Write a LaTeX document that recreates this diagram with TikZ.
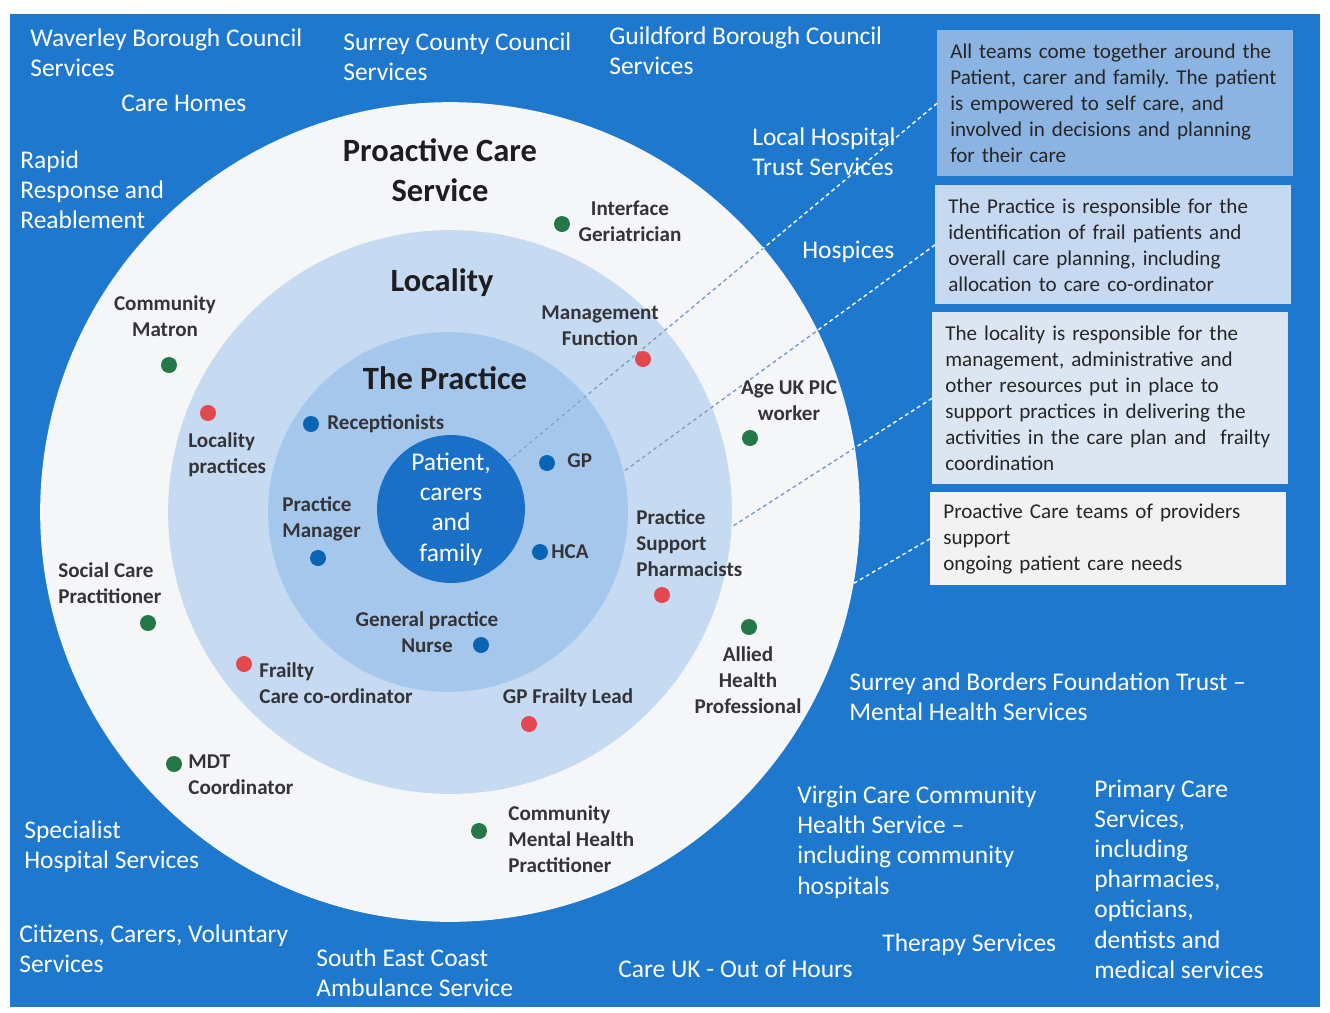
\documentclass[tikz,border=0pt]{standalone}
\usepackage{fontspec}
\setmainfont{Carlito}

\definecolor{bgblue}{RGB}{30,120,205}
\definecolor{ringwhite}{RGB}{244,246,248}
\definecolor{localityblue}{RGB}{198,219,242}
\definecolor{practiceblue}{RGB}{166,199,236}
\definecolor{patientblue}{RGB}{26,112,198}
\definecolor{labelgray}{RGB}{52,52,56}
\definecolor{titlegray}{RGB}{30,30,32}
\definecolor{dotgreen}{RGB}{36,120,72}
\definecolor{dotred}{RGB}{226,72,78}
\definecolor{dotblue}{RGB}{10,100,180}
\definecolor{notedark}{RGB}{140,180,226}
\definecolor{notemid}{RGB}{198,217,241}
\definecolor{notelight}{RGB}{220,230,242}
\definecolor{notepale}{RGB}{242,242,242}
\definecolor{linkgray}{RGB}{120,155,200}

\begin{document}
\frenchspacing
\hyphenpenalty=10000
\begin{tikzpicture}[
        x = 0.02cm, y = -0.02cm,
        svc/.style = {
          text = white, inner sep = 0pt, anchor = west, align = left,
          font = \fontsize{14.5}{17.2}\selectfont,
        },
        role/.style = {
          text = labelgray, inner sep = 0pt,
          font = \bfseries\fontsize{12}{14.8}\selectfont,
        },
        title/.style = {
          text = titlegray, inner sep = 0pt, align = center,
          font = \bfseries\fontsize{18.5}{22.7}\selectfont,
        },
        ring/.style = {circle, inner sep = 0pt, minimum size = #1*0.04cm},
        dot/.style = {circle, fill = #1, inner sep = 0pt, minimum size = 0.32cm},
        note/.style = {
          rectangle, fill = #1, anchor = north west, align = left,
          inner xsep = 0.26cm, inner ysep = 0pt, text width = 6.6cm,
          text = black!85, font = \fontsize{12}{14.8}\selectfont,
        },
        link/.style = {white, dash pattern = on 2.2pt off 1.8pt, line width = 0.8pt},
      ]

      \useasboundingbox (0,0) rectangle (1330,1012);
      \fill[bgblue] (10,14) rectangle (1320,1007);

      % rings, outside in
      \node[ring = 410, fill = ringwhite] (proactive) at (450,512) {};
      \node[ring = 282, fill = localityblue] (locality) at (450,512) {};
      \node[ring = 180, fill = practiceblue] (practice) at (448,512) {};
      \node[ring = 74, fill = patientblue, text = white, align = center,
        font = \fontsize{14.5}{17.3}\selectfont] (patient) at (451,509)
        {Patient,\\carers\\and\\family};

      \node[title] (pcsTitle) at (440,170) {Proactive Care\\Service};
      \node[title] (locTitle) at (442,283) {Locality};
      \node[title] (pracTitle) at (445,378) {The Practice};

      % notes on the right
      \node[note = notedark, minimum height = 2.92cm] (teamsNote) at (937,30)
        {All teams come together around the\\Patient, carer and family. The patient\\is empowered to self care, and\\involved in decisions and planning\\for their care};
      \node[note = notemid, minimum height = 2.38cm] (practiceNote) at (935,185)
        {The Practice is responsible for the\\identification of frail patients and\\overall care planning, including\\allocation to care co-ordinator};
      \node[note = notelight, minimum height = 3.44cm] (localityNote) at (932,312)
        {The locality is responsible for the\\management, administrative and\\other resources put in place to\\support practices in delivering the\\activities in the care plan and\ \ frailty\\coordination};
      \node[note = notepale, minimum height = 1.86cm] (careNote) at (930,492)
        {Proactive Care teams of providers\\support\\ongoing patient care needs};

      \foreach \from/\to in {teamsNote/patient.40, practiceNote/practice.13,
          localityNote/locality.-3, careNote/proactive.-10}
        \draw[link] (\from.west) -- (\to);
      \begin{scope}
        \clip (proactive.center) circle (409);
        \foreach \from/\to in {teamsNote/patient.40, practiceNote/practice.13,
            localityNote/locality.-3, careNote/proactive.-10}
          \draw[link, linkgray] (\from.west) -- (\to);
      \end{scope}

      % services around the edge
      \node[svc] (waverley) at (30,53) {Waverley Borough Council\\Services};
      \node[svc] (surrey) at (343,57) {Surrey County Council\\Services};
      \node[svc] (guildford) at (609,51) {Guildford Borough Council\\Services};
      \node[svc] (careHomes) at (121,103) {Care Homes};
      \node[svc] (rapid) at (20,190) {Rapid\\Response and\\Reablement};
      \node[svc] (hospital) at (752,152) {Local Hospital\\Trust Services};
      \node[svc] (hospices) at (802,252) {Hospices};
      \node[svc] (borders) at (849,697) {Surrey and Borders Foundation Trust –\\Mental Health Services};
      \node[svc] (virgin) at (797,842) {Virgin Care Community\\Health Service –\\including community\\hospitals};
      \node[svc] (primary) at (1094,879) {Primary Care\\Services,\\including\\pharmacies,\\opticians,\\dentists and\\medical services};
      \node[svc] (therapy) at (882,945) {Therapy Services};
      \node[svc] (careUK) at (618,969) {Care UK - Out of Hours};
      \node[svc] (ambulance) at (316,973) {South East Coast\\Ambulance Service};
      \node[svc] (citizens) at (19,949) {Citizens, Carers, Voluntary\\Services};
      \node[svc] (specialist) at (24,847) {Specialist\\Hospital Services};

      % proactive care team
      \node[dot = dotgreen] (geriatricianDot) at (562,224) {};
      \node[role, align = center] (geriatrician) at (630,221) {Interface\\Geriatrician};
      \node[dot = dotgreen] (ageUKDot) at (750,438) {};
      \node[role, align = center] (ageUK) at (789,401) {Age UK PIC\\worker};
      \node[dot = dotgreen] (alliedDot) at (749,627) {};
      \node[role, align = center] (allied) at (748,680) {Allied\\Health\\Professional};
      \node[dot = dotgreen] (mentalDot) at (479,831) {};
      \node[role, align = left, anchor = west] (mental) at (508,839) {Community\\Mental Health\\Practitioner};
      \node[dot = dotgreen] (mdtDot) at (174,764) {};
      \node[role, align = left, anchor = west] (mdt) at (188,775) {MDT\\Coordinator};
      \node[dot = dotgreen] (socialDot) at (148,623) {};
      \node[role, align = left, anchor = west] (social) at (58,583) {Social Care\\Practitioner};
      \node[dot = dotgreen] (matronDot) at (169,365) {};
      \node[role, align = center] (matron) at (165,316) {Community\\Matron};

      % locality
      \node[dot = dotred] (managementDot) at (643,359) {};
      \node[role, align = center] (management) at (600,326) {Management\\Function};
      \node[dot = dotred] (pharmacistsDot) at (662,595) {};
      \node[role, align = left, anchor = west] (pharmacists) at (636,543) {Practice\\Support\\Pharmacists};
      \node[dot = dotred] (frailtyLeadDot) at (529,724) {};
      \node[role] (frailtyLead) at (568,698) {GP Frailty Lead};
      \node[dot = dotred] (coordinatorDot) at (244,664) {};
      \node[role, align = left, anchor = west] (coordinator) at (259,683) {Frailty\\Care co-ordinator};
      \node[dot = dotred] (localityPracticesDot) at (208,413) {};
      \node[role, align = left, anchor = west] (localityPractices) at (188,455) {Locality\\practices};

      % the practice
      \node[dot = dotblue] (receptionDot) at (311,424) {};
      \node[role, anchor = west] (reception) at (327,424) {Receptionists};
      \node[dot = dotblue] (gpDot) at (547,463) {};
      \node[role, anchor = west] (gp) at (567,461) {GP};
      \node[dot = dotblue] (hcaDot) at (540,552) {};
      \node[role, anchor = west] (hca) at (551,552) {HCA};
      \node[dot = dotblue] (managerDot) at (318,558) {};
      \node[role, align = left, anchor = west] (manager) at (282,519) {Practice\\Manager};
      \node[dot = dotblue] (nurseDot) at (481,645) {};
      \node[role, align = center] (nurse) at (427,632) {General practice\\Nurse};
    \end{tikzpicture}
\end{document}
